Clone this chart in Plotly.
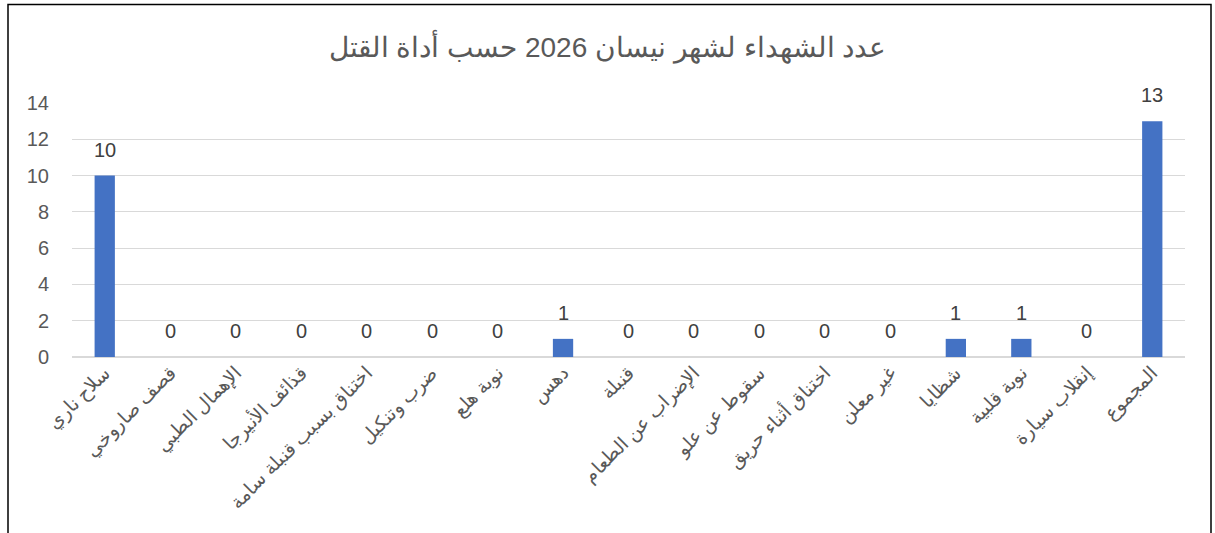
import plotly.graph_objects as go

categories = [
    "سلاح ناري",
    "قصف صاروخي",
    "الإهمال الطبي",
    "قذائف الأنيرجا",
    "اختناق بسبب قنبلة سامة",
    "ضرب وتنكيل",
    "نوبة هلع",
    "دهس",
    "قنبلة",
    "الإضراب عن الطعام",
    "سقوط عن علو",
    "اختناق أثناء حريق",
    "غير معلن",
    "شظايا",
    "نوبة قلبية",
    "إنقلاب سيارة",
    "المجموع",
]
values = [10, 0, 0, 0, 0, 0, 0, 1, 0, 0, 0, 0, 0, 1, 1, 0, 13]
y_ticks = [0, 2, 4, 6, 8, 10, 12, 14]
title_text = "عدد الشهداء لشهر نيسان 2026 حسب أداة القتل"

W, H = 1215, 533
L, R, T, B = 72, 30, 103, 176
FONT = "Liberation Sans, Arial, sans-serif"

fig = go.Figure(
    go.Bar(
        x=categories,
        y=values,
        width=0.31,
        marker=dict(color="#4472C4", line=dict(width=0)),
        hoverinfo="x+y",
    )
)

for c, v in zip(categories, values):
    fig.add_annotation(
        x=c, y=v, text=str(v), showarrow=False,
        yanchor="bottom", yshift=13,
        font=dict(family=FONT, size=20, color="#404040"),
    )

pw = W - L - R
ph = H - T - B
fig.add_shape(
    type="rect",
    xref="paper", yref="paper",
    x0=(8 - L) / pw, x1=(1211 - L) / pw,
    y0=(H - B - 545) / ph, y1=(H - B - 4.5) / ph,
    line=dict(color="#000000", width=1.5),
    fillcolor="rgba(0,0,0,0)",
    layer="below",
)

fig.update_layout(
    width=W, height=H,
    margin=dict(l=L, r=R, t=T, b=B),
    paper_bgcolor="white",
    plot_bgcolor="white",
    showlegend=False,
    title=dict(
        text=title_text,
        x=0.5, xanchor="center",
        y=1 - 47 / H, yanchor="middle",
        yref="container",
        font=dict(family=FONT, size=28, color="#595959"),
    ),
    xaxis=dict(
        type="category",
        tickangle=-45,
        tickfont=dict(family=FONT, size=19, color="#595959"),
        showgrid=False,
        showline=False,
        ticks="",
        automargin=False,
    ),
    yaxis=dict(
        range=[0, 14],
        tickvals=y_ticks,
        tickfont=dict(family=FONT, size=20, color="#595959"),
        showgrid=True,
        gridcolor="#D9D9D9",
        gridwidth=1.4,
        zeroline=True,
        zerolinecolor="#D9D9D9",
        zerolinewidth=1.6,
        showline=False,
        ticks="",
        ticklabelstandoff=22,
        automargin=False,
    ),
)

fig.write_html(
    "out.html",
    config={"displayModeBar": False},
    post_script="document.body.style.margin='0px';document.body.style.overflow='hidden';",
)
